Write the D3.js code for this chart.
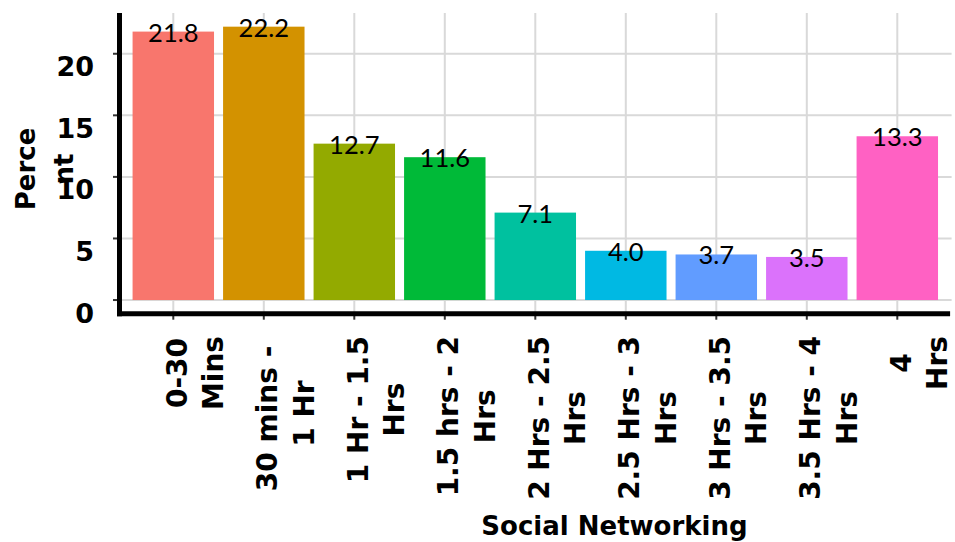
<!DOCTYPE html>
<html>
<head>
<meta charset="utf-8">
<script src="https://cdn.jsdelivr.net/npm/d3@7"></script>
<style>
  html, body { margin: 0; padding: 0; background: #ffffff; }
  svg { display: block; }
</style>
</head>
<body>
<svg id="chart" width="955" height="542"></svg>
<script>
// Daily time spent on social networking, share of respondents
const categories = [
  "0-30\nMins",
  "30 mins - \n1 Hr",
  "1 Hr - 1.5\nHrs",
  "1.5 hrs - 2\nHrs",
  "2 Hrs - 2.5\nHrs",
  "2.5 Hrs - 3\nHrs",
  "3 Hrs - 3.5\nHrs",
  "3.5 Hrs - 4\nHrs",
  "4\nHrs"
];
const percents = [21.8, 22.2, 12.7, 11.6, 7.1, 4.0, 3.7, 3.5, 13.3];
const yTicks = [0, 5, 10, 15, 20];
const barColors = ["#F8766D", "#D39200", "#93AA00", "#00BA38", "#00C19F",
                   "#00B9E3", "#619CFF", "#DB72FB", "#FF61C3"];
const xTitle = "Social Networking";
const yTitleLines = ["Perce", "nt"];

const svg = d3.select("#chart");
const panel = { left: 119, right: 951.6, top: 13, bottom: 313.7 };
const axisFont = "'DejaVu Sans', Verdana, sans-serif";
const gridColor = "#d9d9d9";

const yMax = d3.max(percents);
const x = d3.scaleBand()
  .domain(categories)
  .range([panel.left, panel.right])
  .paddingInner(0.1)
  .paddingOuter(0.15);
const y = d3.scaleLinear()
  .domain([-0.05 * yMax, 1.05 * yMax])
  .range([panel.bottom, panel.top]);

const centre = c => x(c) + x.bandwidth() / 2;

// grid
const grid = svg.append("g");
grid.selectAll("line.h").data(yTicks).join("line")
  .attr("x1", panel.left).attr("x2", panel.right)
  .attr("y1", d => y(d)).attr("y2", d => y(d))
  .attr("stroke", gridColor).attr("stroke-width", 2);
grid.selectAll("line.v").data(categories).join("line")
  .attr("x1", d => centre(d)).attr("x2", d => centre(d))
  .attr("y1", panel.top).attr("y2", panel.bottom)
  .attr("stroke", gridColor).attr("stroke-width", 2);

// bars
svg.append("g").selectAll("rect").data(categories).join("rect")
  .attr("x", d => x(d))
  .attr("width", x.bandwidth())
  .attr("y", (d, i) => y(percents[i]))
  .attr("height", (d, i) => y(0) - y(percents[i]))
  .attr("fill", (d, i) => barColors[i]);

// value labels
svg.append("g").selectAll("text").data(categories).join("text")
  .attr("x", d => centre(d))
  .attr("y", (d, i) => y(percents[i]) + 10)
  .attr("text-anchor", "middle")
  .attr("font-family", "Lato, 'Open Sans', sans-serif")
  .attr("font-size", 25.5)
  .attr("fill", "#000")
  .text((d, i) => percents[i].toFixed(1));

// tick marks
const ticks = svg.append("g").attr("stroke", "#333").attr("stroke-width", 2);
ticks.selectAll("line.y").data(yTicks).join("line")
  .attr("x1", panel.left - 6).attr("x2", panel.left)
  .attr("y1", d => y(d)).attr("y2", d => y(d));
ticks.selectAll("line.x").data(categories).join("line")
  .attr("x1", d => centre(d)).attr("x2", d => centre(d))
  .attr("y1", panel.bottom).attr("y2", panel.bottom + 6);

// axis lines
svg.append("line")
  .attr("x1", panel.left + 0.5).attr("x2", panel.left + 0.5)
  .attr("y1", panel.top).attr("y2", panel.bottom + 2.5)
  .attr("stroke", "#000").attr("stroke-width", 5);
svg.append("line")
  .attr("x1", panel.left - 2).attr("x2", panel.right - 1.5)
  .attr("y1", panel.bottom).attr("y2", panel.bottom)
  .attr("stroke", "#000").attr("stroke-width", 5);

// y tick labels
svg.append("g").selectAll("text").data(yTicks).join("text")
  .attr("x", 94)
  .attr("y", d => y(d) + 22.5)
  .attr("text-anchor", "end")
  .attr("font-family", axisFont)
  .attr("font-weight", "bold")
  .attr("font-size", 27)
  .attr("fill", "#000")
  .text(d => d);

// x tick labels, rotated, lines centred on each other
const labelTop = 336;
const xl = svg.append("g").selectAll("g").data(categories).join("g")
  .attr("transform", d => `translate(${centre(d)},0)`);
xl.each(function (d) {
  const g = d3.select(this);
  const t = g.append("text")
    .attr("transform", "rotate(-90)")
    .attr("text-anchor", "middle")
    .attr("font-family", axisFont)
    .attr("font-weight", "bold")
    .attr("font-size", 28)
    .attr("fill", "#000")
    .attr("xml:space", "preserve")
    .style("white-space", "pre");
  const lines = d.split("\n");
  const spans = lines.map((line, i) => t.append("tspan")
    .attr("y", 13.5 + i * 36.5)
    .text(line));
  const w = d3.max(spans, s => s.node().getComputedTextLength());
  spans.forEach(s => s.attr("x", -(labelTop + w / 2)));
});

// axis titles
svg.append("text")
  .attr("x", 614.5).attr("y", 535)
  .attr("text-anchor", "middle")
  .attr("font-family", axisFont)
  .attr("font-weight", "bold")
  .attr("font-size", 26)
  .attr("fill", "#000")
  .text(xTitle);

const yt = svg.append("text")
  .attr("transform", "rotate(-90)")
  .attr("text-anchor", "middle")
  .attr("font-family", axisFont)
  .attr("font-weight", "bold")
  .attr("font-size", 26)
  .attr("fill", "#000");
yTitleLines.forEach((line, i) => yt.append("tspan")
  .attr("x", -169).attr("y", 35 + i * 38).text(line));
</script>
</body>
</html>
